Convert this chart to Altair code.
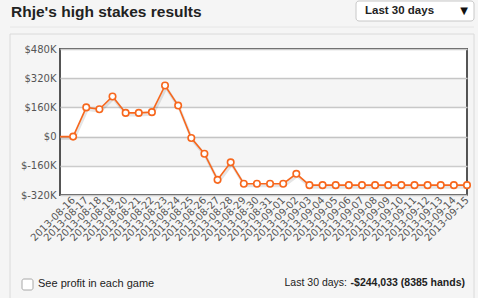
import altair as alt
import pandas as pd

# ---- data ----
dates = [
    "2013-08-16", "2013-08-17", "2013-08-18", "2013-08-19", "2013-08-20",
    "2013-08-21", "2013-08-22", "2013-08-23", "2013-08-24", "2013-08-25",
    "2013-08-26", "2013-08-27", "2013-08-28", "2013-08-29", "2013-08-30",
    "2013-08-31", "2013-09-01", "2013-09-02", "2013-09-03", "2013-09-04",
    "2013-09-05", "2013-09-06", "2013-09-07", "2013-09-08", "2013-09-09",
    "2013-09-10", "2013-09-11", "2013-09-12", "2013-09-13", "2013-09-14",
    "2013-09-15",
]
profit_k = [
    0, 160, 150, 220, 130, 130, 134, 280, 170, -8,
    -94, -237, -141, -258, -258, -258, -258, -204, -266, -266,
    -266, -266, -266, -266, -266, -266, -266, -266, -266, -266,
    -266,
]
start_value_k = 0
y_ticks_k = [-320, -160, 0, 160, 320, 480]
band_starts_k = [160, -160]
band_ends_k = [320, 0]

title_text = "Rhje's high stakes results"
period_text = "Last 30 days"
footer_left = "See profit in each game"
footer_label = "Last 30 days:"
footer_value = "-$244,033 (8385 hands)"

ORANGE = "#f7671d"
FONT = "DejaVu Sans"
SANS = "Liberation Sans"

# ---- tables ----
rows = [{"day": 0, "profit": start_value_k * 1000, "marker": False}]
for i, (d, v) in enumerate(zip(dates, profit_k), start=1):
    rows.append({"day": i, "profit": v * 1000, "marker": True, "date": d})
df = pd.DataFrame(rows)
bands = pd.DataFrame({"profit": [b * 1000 for b in band_starts_k],
                      "profit_end": [b * 1000 for b in band_ends_k]})

label_array = "[" + ",".join("'" + d + "'" for d in dates) + "]"

x_enc = alt.X(
    "day:Q",
    scale=alt.Scale(domain=[0, len(dates)], nice=False, zero=False),
    axis=alt.Axis(
        values=list(range(1, len(dates) + 1)),
        labelExpr=label_array + "[datum.value - 1]",
        labelAngle=315, labelAlign="right", labelBaseline="middle",
        labelPadding=3, labelOverlap=False, labelBound=False, labelFlush=False,
        labelFont=FONT, labelFontSize=10, labelColor="#555555",
        grid=False, domain=False, ticks=False, title=None,
    ),
)
y_scale = alt.Scale(domain=[y_ticks_k[0] * 1000, y_ticks_k[-1] * 1000], nice=False, zero=False)
y_axis = alt.Axis(
    values=[t * 1000 for t in y_ticks_k],
    labelExpr="datum.value == 0 ? '$0' : '$' + (datum.value / 1000) + 'K'",
    labelPadding=4, labelFont=FONT, labelFontSize=10, labelColor="#555555",
    grid=True, gridColor="#cccccc", gridWidth=1.5,
    domain=False, ticks=False, title=None,
)
y_enc = alt.Y("profit:Q", scale=y_scale, axis=y_axis)

base = alt.Chart(df)

band_layer = alt.Chart(bands).mark_rect(color="#000000", opacity=0.04).encode(
    x=alt.value(0), x2=alt.value(407),
    y=alt.Y("profit:Q", scale=y_scale, axis=y_axis), y2="profit_end:Q",
)
shadow = base.mark_line(color="#000000", opacity=0.10, strokeWidth=3, xOffset=1, yOffset=2).encode(
    x=x_enc, y=y_enc
)
line = base.mark_line(color=ORANGE, strokeWidth=1.6).encode(x=x_enc, y=y_enc)
points = base.transform_filter("datum.marker").mark_point(
    filled=True, fill="white", stroke=ORANGE, strokeWidth=1.6, size=42, opacity=1
).encode(x=x_enc, y=y_enc)

# ---- decorations (page furniture outside the plot) ----
deco = alt.Chart(pd.DataFrame({"a": [0]}))
panel = deco.mark_rect(fill="#f5f5f5", fillOpacity=0, stroke="#dadada", strokeWidth=1).encode(
    x=alt.value(-50), x2=alt.value(414), y=alt.value(-15), y2=alt.value(260)
)
sep = deco.mark_rule(color="#e6e6e6", strokeWidth=1).encode(
    x=alt.value(-50), x2=alt.value(414), y=alt.value(-22)
)
title = deco.mark_text(text=title_text, font=SANS, fontSize=15.5, fontWeight="bold",
                       align="left", baseline="alphabetic", color="#222222").encode(
    x=alt.value(-49), y=alt.value(-32)
)
dropbox = deco.mark_rect(fill="white", stroke="#c8c8c8", strokeWidth=1, cornerRadius=3).encode(
    x=alt.value(296), x2=alt.value(414), y=alt.value(-48), y2=alt.value(-28)
)
droptext = deco.mark_text(text=period_text, font=SANS, fontSize=11.5, fontWeight="bold",
                          align="left", baseline="alphabetic", color="#222222").encode(
    x=alt.value(305), y=alt.value(-35)
)
droparrow = deco.mark_text(text="▼", font=FONT, fontSize=10, align="center",
                           baseline="middle", color="#111111").encode(
    x=alt.value(404), y=alt.value(-38)
)
checkbox = deco.mark_rect(fill="white", stroke="#a8a8a8", strokeWidth=1, cornerRadius=2).encode(
    x=alt.value(-38), x2=alt.value(-27), y=alt.value(230), y2=alt.value(241)
)
foot_left = deco.mark_text(text=footer_left, font=SANS, fontSize=11, align="left",
                           baseline="alphabetic", color="#222222").encode(
    x=alt.value(-22), y=alt.value(238)
)
foot_label = deco.mark_text(text=footer_label, font=SANS, fontSize=10.5, align="right",
                            baseline="alphabetic", color="#222222").encode(
    x=alt.value(287), y=alt.value(237)
)
foot_value = deco.mark_text(text=footer_value, font=SANS, fontSize=10.5, fontWeight="bold",
                            align="right", baseline="alphabetic", color="#222222").encode(
    x=alt.value(405), y=alt.value(237)
)

chart = alt.layer(
    panel, sep, title, dropbox, droptext, droparrow,
    band_layer, shadow, line, points,
    checkbox, foot_left, foot_label, foot_value,
).properties(
    width=407, height=146,
    padding={"left": 60, "top": 49, "right": 11, "bottom": 103},
    autosize=alt.AutoSizeParams(type="none"),
    background="#f5f5f5",
).configure_view(
    fill="white", stroke="#555555", strokeWidth=2,
)

chart.save("out.html", embed_options={"renderer": "svg", "actions": False})
